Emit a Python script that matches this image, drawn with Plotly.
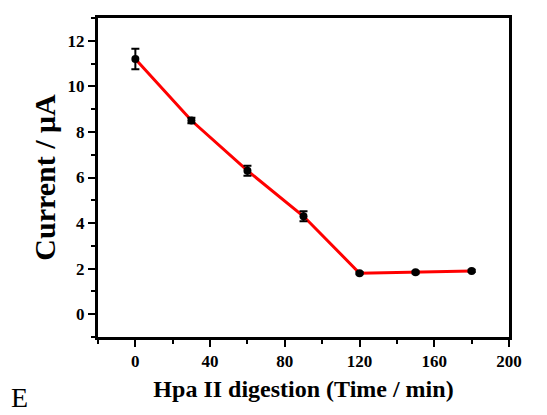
import plotly.graph_objects as go

time_min = [0, 30, 60, 90, 120, 150, 180]
current_uA = [11.2, 8.5, 6.3, 4.3, 1.8, 1.84, 1.9]
error_uA = [0.45, 0.12, 0.22, 0.22, 0.05, 0.05, 0.05]

FONT = "Liberation Serif, Times New Roman, serif"

fig = go.Figure()
fig.add_trace(go.Scatter(
    x=time_min, y=current_uA, mode="lines",
    line=dict(color="#ff0000", width=3), showlegend=False, hoverinfo="skip"))
fig.add_trace(go.Scatter(
    x=time_min, y=current_uA, mode="markers",
    marker=dict(color="black", size=8),
    error_y=dict(type="data", array=error_uA, color="black", thickness=2, width=4),
    showlegend=False))

axis_common = dict(
    showline=True, linecolor="black", linewidth=3, mirror=True,
    ticks="outside", tickcolor="black", tickwidth=2, ticklen=7,
    showgrid=False, zeroline=False,
    tickfont=dict(family=FONT, size=17, color="black", weight="bold"),
)

fig.update_xaxes(
    range=[-20, 200], tick0=0, dtick=40,
    minor=dict(ticks="outside", ticklen=4, tickwidth=2, tickcolor="black", dtick=20, tick0=0),
    title=dict(text="Hpa II digestion (Time / min)", standoff=10,
               font=dict(family=FONT, size=24, color="black", weight="bold")),
    **axis_common)
fig.update_yaxes(
    range=[-1, 13], tick0=0, dtick=2,
    minor=dict(ticks="outside", ticklen=4, tickwidth=2, tickcolor="black", dtick=1, tick0=0),
    title=dict(text="Current / μA", standoff=4,
               font=dict(family=FONT, size=30, color="black", weight="bold")),
    **axis_common)

fig.add_annotation(text="E", xref="paper", yref="paper", x=-0.19, y=-0.19,
                   xanchor="center", yanchor="middle", showarrow=False,
                   font=dict(family=FONT, size=28, color="black"))

fig.update_layout(
    width=547, height=415,
    margin=dict(l=98, r=38, t=18, b=78),
    plot_bgcolor="white", paper_bgcolor="white",
)

fig.write_html("out.html")
